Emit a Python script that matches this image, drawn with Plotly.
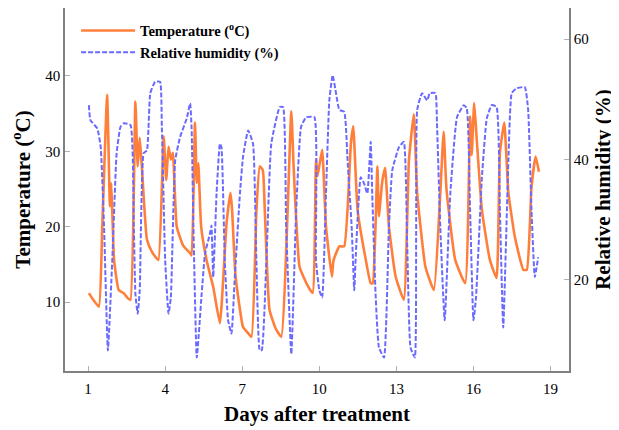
import plotly.graph_objects as go

# Temperature series (days after treatment, degC)
temp_day = [1.03, 1.20, 1.42, 1.55, 1.74, 1.85, 1.90, 1.95, 2.01, 2.19, 2.38, 2.55, 2.65,
            2.84, 2.93, 3.01, 3.10, 3.29, 3.48, 3.62, 3.74,
            3.94, 4.04, 4.13, 4.22, 4.30, 4.45, 4.70, 4.97,
            5.03, 5.16, 5.23, 5.29, 5.40, 5.61, 5.87, 6.13,
            6.39, 6.54, 6.60, 6.74, 7.03, 7.20, 7.36,
            7.55, 7.68, 7.80, 7.88, 8.06, 8.30, 8.52,
            8.91, 9.00, 9.23, 9.50, 9.74,
            9.87, 9.93, 10.11, 10.26, 10.49, 10.55, 10.78, 10.97,
            11.23, 11.32, 11.49, 11.81, 12.00, 12.08,
            12.26, 12.32, 12.45, 12.56, 12.71, 12.97, 13.29,
            13.49, 13.68, 13.81, 14.13, 14.46,
            14.71, 14.84, 14.95, 15.29, 15.68,
            15.87, 15.93, 16.03, 16.13, 16.33, 16.64, 16.90,
            17.03, 17.20, 17.36, 17.61, 17.94, 18.08,
            18.26, 18.42, 18.55]
temp_val = [11.2, 10.3, 9.4, 20.0, 37.5, 22.7, 25.8, 21.0, 15.6, 11.6, 11.2, 10.5, 10.3,
            36.6, 28.0, 31.8, 27.5, 18.3, 16.7, 16.0, 15.6,
            32.0, 26.2, 30.6, 28.9, 29.8, 20.0, 17.5, 16.5,
            16.2, 33.8, 25.8, 28.4, 20.0, 15.6, 12.0, 7.2,
            20.5, 24.5, 22.5, 13.4, 6.7, 6.0, 5.4,
            22.0, 28.0, 27.5, 22.0, 9.0, 6.5, 5.4,
            35.3, 28.0, 14.7, 12.5, 11.2,
            28.9, 26.7, 30.2, 20.0, 13.4, 15.5, 17.4, 17.4,
            31.1, 33.3, 22.2, 15.6, 12.5, 12.5,
            28.0, 21.4, 26.0, 27.8, 20.0, 13.4, 10.3,
            28.9, 34.9, 24.5, 14.7, 11.6,
            24.5, 32.6, 25.0, 15.6, 12.5,
            34.6, 29.5, 36.4, 31.5, 22.2, 15.6, 13.2,
            29.8, 33.8, 24.5, 18.7, 14.3, 14.3,
            25.3, 29.3, 27.3]

# Relative humidity series (days after treatment, %)
rh_day = [1.03, 1.09, 1.36, 1.49, 1.62, 1.77, 1.94, 2.11, 2.26, 2.39, 2.65,
          2.78, 2.84, 2.93, 3.01, 3.16, 3.29, 3.42, 3.61, 3.80, 3.87,
          4.00, 4.13, 4.22, 4.39, 4.58, 4.84, 4.97, 5.03, 5.10, 5.23,
          5.42, 5.55, 5.74, 5.80, 5.87, 6.00, 6.13, 6.19, 6.32, 6.45, 6.58,
          6.71, 6.91, 7.03, 7.23, 7.42, 7.55, 7.68, 7.76, 7.94, 8.13, 8.46,
          8.59, 8.71, 8.91, 9.10, 9.29, 9.49, 9.81, 9.87, 10.00, 10.11,
          10.26, 10.39, 10.52, 10.65, 10.78, 10.97, 11.10, 11.26, 11.36,
          11.42, 11.61, 11.74, 11.87, 12.00, 12.06, 12.19, 12.32, 12.52,
          12.71, 12.84, 13.10, 13.29, 13.42, 13.55, 13.72, 13.77, 13.81,
          14.00, 14.20, 14.30, 14.52, 14.58, 14.71, 14.88, 15.10, 15.36,
          15.62, 15.74, 15.87, 16.00, 16.10, 16.33, 16.52, 16.71, 16.90,
          17.03, 17.16, 17.36, 17.49, 17.68, 18.00, 18.13, 18.26, 18.39,
          18.52]
rh_val = [49.0, 46.5, 45.1, 42.0, 28.7, 8.2, 23.2, 41.0, 45.4, 46.0, 45.7,
          28.7, 17.6, 14.3, 18.2, 41.0, 41.5, 51.0, 52.9, 52.9, 45.4,
          23.2, 14.3, 17.0, 39.8, 43.7, 46.8, 49.3, 45.0, 28.7, 7.0,
          17.6, 24.3, 27.6, 29.0, 20.4, 34.3, 42.6, 42.0, 23.2, 13.2, 11.0,
          20.4, 34.3, 40.4, 44.8, 42.6, 23.2, 8.2, 8.2, 23.2, 42.6, 48.7,
          48.7, 28.7, 7.6, 31.5, 45.4, 47.0, 47.0, 23.2, 18.2, 17.0,
          34.3, 49.8, 54.0, 51.0, 48.2, 47.9, 39.8, 28.7, 18.2,
          24.0, 37.0, 36.0, 34.3, 42.9, 34.3, 17.6, 8.7, 7.0,
          28.7, 38.2, 42.0, 42.9, 26.0, 8.7, 7.0, 28.0, 48.2,
          51.0, 49.8, 51.0, 51.0, 46.0, 28.7, 13.2, 34.3, 47.0,
          49.0, 48.5, 31.5, 13.2, 17.0, 37.0, 46.8, 49.0, 48.7,
          31.5, 12.0, 39.8, 51.0, 51.8, 52.0, 48.2, 31.5, 20.4,
          23.7]

x_ticks = [1, 4, 7, 10, 13, 16, 19]
temp_ticks = [10, 20, 30, 40]
rh_ticks = [20, 40, 60]

FONT = "Liberation Serif"
AXIS_COLOR = "#808080"

fig = go.Figure()
fig.add_trace(go.Scatter(
    x=temp_day, y=temp_val, mode="lines",
    name="<b>Temperature (<sup>o</sup>C)</b>",
    line=dict(color="#FF7F3A", width=2.6, shape="spline", smoothing=0.4),
    yaxis="y"))
fig.add_trace(go.Scatter(
    x=rh_day, y=rh_val, mode="lines", name="<b>Relative humidity (%)</b>",
    line=dict(color="#6A6AFF", width=2, dash="5px,2px", shape="spline",
              smoothing=0.4),
    yaxis="y2"))

axis_common = dict(showline=True, linecolor=AXIS_COLOR, linewidth=1.5,
                   ticks="inside", ticklen=5, tickcolor="#b0b0b0",
                   showgrid=False, zeroline=False, automargin=False,
                   tickprefix="<b>", ticksuffix="</b>",
                   tickfont=dict(family=FONT, size=15, color="black"))

# The page body adds an 8px offset, so the figure is 611x422 within the window.
fig.update_layout(
    width=611, height=422,
    margin=dict(l=57, r=50, t=0, b=59),
    paper_bgcolor="white", plot_bgcolor="white",
    font=dict(family=FONT, color="black"),
    xaxis=dict(range=[0.10, 19.72], tickvals=x_ticks, mirror=True,
               ticklabelstandoff=3,
               title=dict(text="<b>Days after treatment</b>",
                          font=dict(family=FONT, size=21), standoff=11),
               **axis_common),
    yaxis=dict(range=[0.87, 49.0], tickvals=temp_ticks,
               title=dict(text="<b>Temperature (<sup>o</sup>C)</b>",
                          font=dict(family=FONT, size=21), standoff=9),
               **axis_common),
    yaxis2=dict(range=[4.77, 65.17], tickvals=rh_ticks, overlaying="y",
                side="right",
                title=dict(text="<b>Relative humidity (%)</b>",
                           font=dict(family=FONT, size=21), standoff=8),
                **axis_common),
    legend=dict(x=0.022, y=0.982, xanchor="left", yanchor="top",
                bgcolor="rgba(0,0,0,0)", itemwidth=54,
                font=dict(family=FONT, size=14.5, color="black"),
                tracegroupgap=0),
    showlegend=True,
)

fig.write_html("out.html")
